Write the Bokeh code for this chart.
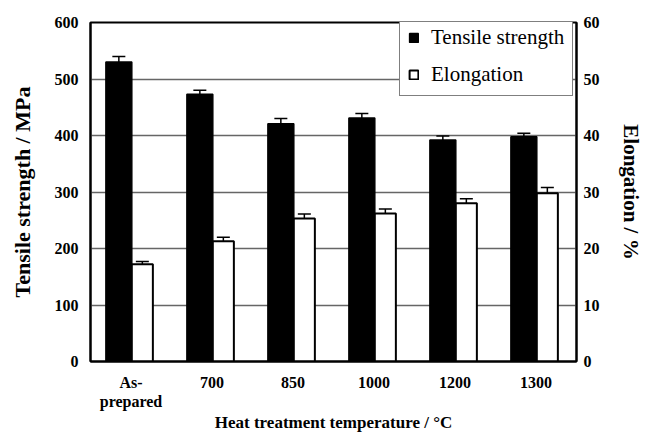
import numpy as np
from bokeh.plotting import figure
from bokeh.models import (ColumnDataSource, Range1d, LinearAxis, FixedTicker,
                          Whisker, TeeHead, Legend, LegendItem)
from bokeh.embed import file_html
from bokeh.resources import INLINE

categories = ["As-\nprepared", "700", "850", "1000", "1200", "1300"]
tensile = [530, 473, 421, 431, 392, 398]
tensile_err = [10, 7, 9, 8, 7, 6]
elong = [17.2, 21.3, 25.3, 26.2, 28.0, 29.8]
elong_err = [0.5, 0.7, 0.8, 0.8, 0.8, 1.0]

FONT = "Liberation Serif"
idx = np.arange(len(categories))

p = figure(width=645, height=436, output_backend="svg", toolbar_location=None,
           x_range=Range1d(-0.5, len(categories) - 0.5), y_range=Range1d(0, 600),
           min_border_left=90, min_border_right=64, min_border_top=22, min_border_bottom=75)
p.extra_y_ranges = {"el": Range1d(0, 60)}

p.outline_line_color = "black"
p.outline_line_width = 2
p.background_fill_color = "white"
p.border_fill_color = "white"

p.xgrid.visible = False
p.ygrid.grid_line_color = "#666666"
p.ygrid.grid_line_width = 1.5
p.ygrid.ticker = FixedTicker(ticks=[100, 200, 300, 400, 500])

ts = ColumnDataSource(dict(x=idx - 0.15, top=tensile,
                           lower=np.array(tensile) - np.array(tensile_err),
                           upper=np.array(tensile) + np.array(tensile_err)))
es = ColumnDataSource(dict(x=idx + 0.14, top=elong,
                           lower=np.array(elong) - np.array(elong_err),
                           upper=np.array(elong) + np.array(elong_err)))

r1 = p.vbar(x="x", top="top", width=0.32, bottom=0, source=ts,
            fill_color="black", line_color="black", line_width=1.5)
r2 = p.vbar(x="x", top="top", width=0.26, bottom=0, source=es, y_range_name="el",
            fill_color="white", line_color="black", line_width=2)

w1 = Whisker(base="x", lower="lower", upper="upper", source=ts, line_color="black", line_width=1.5,
             upper_head=TeeHead(size=13, line_width=1.5, line_color="black"),
             lower_head=TeeHead(size=13, line_width=1.5, line_color="black"))
w2 = Whisker(base="x", lower="lower", upper="upper", source=es, y_range_name="el",
             line_color="black", line_width=1.5,
             upper_head=TeeHead(size=13, line_width=1.5, line_color="black"),
             lower_head=TeeHead(size=13, line_width=1.5, line_color="black"))
p.add_layout(w1)
p.add_layout(w2)

# axes
p.xaxis.ticker = FixedTicker(ticks=list(idx))
p.xaxis.major_label_overrides = {int(i): c for i, c in zip(idx, categories)}
p.xaxis.axis_label = "Heat treatment temperature / \u00b0C"

p.yaxis.ticker = FixedTicker(ticks=[0, 100, 200, 300, 400, 500, 600])
p.yaxis.axis_label = "Tensile strength / MPa"

ax_r = LinearAxis(y_range_name="el", ticker=FixedTicker(ticks=[0, 10, 20, 30, 40, 50, 60]),
                  axis_label="Elongation / %")
p.add_layout(ax_r, "right")

for ax in [p.xaxis[0], p.yaxis[0], ax_r]:
    ax.axis_line_color = "black"
    ax.axis_line_width = 2
    ax.major_tick_in = 0
    ax.major_tick_out = 0
    ax.minor_tick_in = 0
    ax.minor_tick_out = 0
    ax.major_label_text_font = FONT
    ax.major_label_text_font_style = "bold"
    ax.major_label_text_font_size = "16px"
    ax.major_label_text_color = "black"
    ax.axis_label_text_font = FONT
    ax.axis_label_text_font_style = "bold"
    ax.axis_label_text_font_size = "22px"
    ax.axis_label_text_color = "black"

p.xaxis.axis_label_text_font_size = "17px"
p.xaxis.major_label_text_line_height = 1.15
p.xaxis.major_label_standoff = 12
p.xaxis.axis_label_standoff = 0
p.yaxis.major_label_standoff = 12
p.yaxis.axis_label_standoff = 17
ax_r.major_label_standoff = 7
ax_r.axis_label_standoff = 16
ax_r.axis_label_text_font_size = "21px"

legend = Legend(items=[LegendItem(label="Tensile strength", renderers=[r1]),
                       LegendItem(label="Elongation", renderers=[r2])],
                location=(309, 265))
legend.label_text_font = FONT
legend.label_text_font_size = "21px"
legend.label_text_color = "black"
legend.glyph_width = 11
legend.glyph_height = 11
legend.label_standoff = 12
legend.label_height = 22
legend.spacing = 12
legend.padding = 8
legend.margin = 0
legend.border_line_color = "black"
legend.border_line_width = 1
legend.background_fill_color = "white"
legend.background_fill_alpha = 1
p.add_layout(legend)

open("out.html", "w").write(file_html(p, INLINE))
